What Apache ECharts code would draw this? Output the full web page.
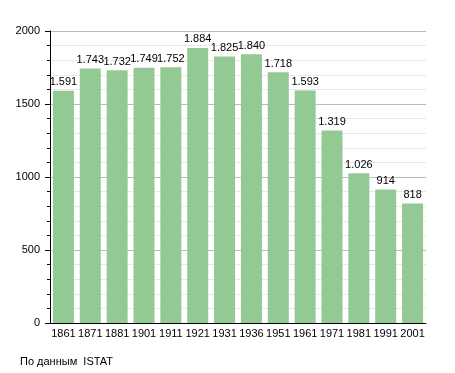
<!DOCTYPE html>
<html><head><meta charset="utf-8">
<script src="https://cdn.jsdelivr.net/npm/echarts@6/dist/echarts.min.js"></script>
<style>html,body{margin:0;padding:0;background:#fff}#c{width:455px;height:373px}</style>
</head><body><div id="c"></div>
<script>
const categories = ["1861","1871","1881","1901","1911","1921","1931","1936","1951","1961","1971","1981","1991","2001"];
const population = [1591,1743,1732,1749,1752,1884,1825,1840,1718,1593,1319,1026,914,818];
const yTicks = [0,500,1000,1500,2000];
const chart = echarts.init(document.getElementById('c'));
const fmt = v => { const s = String(v); return s.length > 3 ? s.slice(0, s.length-3) + '.' + s.slice(-3) : s; };
chart.setOption({
  animation: false,
  textStyle: {fontFamily: 'Liberation Sans, Arial, sans-serif'},
  grid: {left: 50, right: 29, top: 31, bottom: 50},
  graphic: [{type: 'text', left: 20, top: 356, style: {text: 'По данным  ISTAT', fontSize: 11, fill: '#000', fontFamily: 'Liberation Sans, Arial, sans-serif'}}],
  xAxis: {
    type: 'category', data: categories,
    axisLine: {lineStyle: {color: '#000', width: 1}},
    axisTick: {show: false},
    axisLabel: {color: '#000', fontSize: 11, margin: 5, interval: 0}
  },
  yAxis: {
    type: 'value', min: yTicks[0], max: yTicks[yTicks.length-1], interval: 500,
    axisLine: {show: true, lineStyle: {color: '#000'}},
    axisTick: {show: true, length: 5, lineStyle: {color: '#000'}},
    minorTick: {show: true, splitNumber: 5, length: 3, lineStyle: {color: '#000'}},
    splitLine: {lineStyle: {color: '#bbbbbb'}},
    minorSplitLine: {show: true, lineStyle: {color: '#e8e8e8'}},
    axisLabel: {color: '#000', fontSize: 11, margin: 10, formatter: v => String(v)}
  },
  series: [{
    type: 'bar', data: population, barWidth: 21,
    itemStyle: {color: '#93ca93'},
    label: {show: true, position: 'top', distance: 3, color: '#000', fontSize: 11, formatter: p => fmt(p.value)}
  }]
});
</script></body></html>
